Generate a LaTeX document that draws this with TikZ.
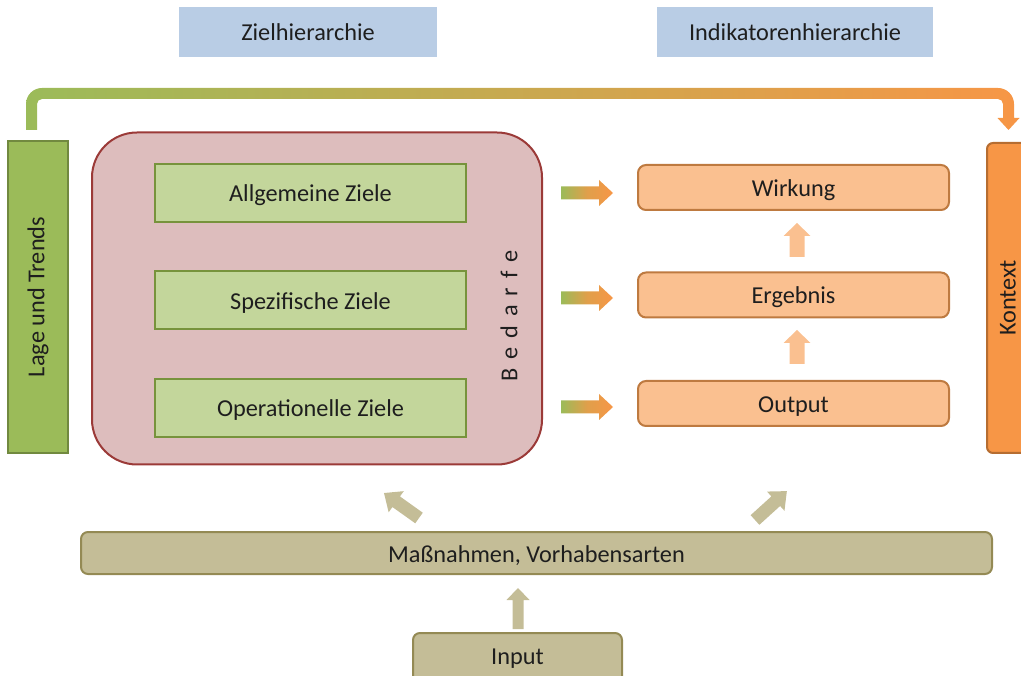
\documentclass[tikz,border=0pt]{standalone}
\usepackage{fontspec}
\setmainfont{Carlito}
\definecolor{hblue}{HTML}{B9CDE5}
\definecolor{lgreen}{HTML}{9BBB59}
\definecolor{lgreenb}{HTML}{71893F}
\definecolor{pgreen}{HTML}{C3D69B}
\definecolor{pgreenb}{HTML}{77933C}
\definecolor{pink}{HTML}{DDBDBD}
\definecolor{pinkb}{HTML}{9B3A38}
\definecolor{porange}{HTML}{FAC090}
\definecolor{porangeb}{HTML}{BE7A40}
\definecolor{lorange}{HTML}{F79646}
\definecolor{lorangeb}{HTML}{B66D31}
\definecolor{tan}{HTML}{C4BD97}
\definecolor{tanb}{HTML}{948A54}
\definecolor{txt}{HTML}{1E1E1E}
\newcommand\blkarrow[8]{%
  \begin{scope}[shift={(#2,#3)},rotate=#4]
    \path[#1] (0,-#6) -- ({#5-#8},-#6) -- ({#5-#8},-#7) -- (#5,0)
      -- ({#5-#8},#7) -- ({#5-#8},#6) -- (0,#6) -- cycle;
  \end{scope}}
\tikzset{
  box/.style={inner sep=0pt, outer sep=0pt, text=txt, line width=2pt},
  hbox/.style={box, text height=19pt, text depth=1pt},
  hdr/.style={hbox, fill=hblue, draw=none},
  lagebox/.style={box, fill=lgreen, draw=lgreenb},
  goalbox/.style={hbox, fill=pgreen, draw=pgreenb},
  bedbox/.style={box, fill=pink, draw=pinkb, rounded corners=45pt},
  indbox/.style={hbox, fill=porange, draw=porangeb, rounded corners=8pt},
  ktxbox/.style={box, fill=lorange, draw=lorangeb, rounded corners=6pt},
  tanbox/.style={hbox, fill=tan, draw=tanb, rounded corners=7pt},
  grad/.style={shade, left color=lgreen, right color=lorange, middle color=lorange!75!lgreen},
}
\begin{document}
\begin{tikzpicture}[x=1pt,y=-1pt, font=\fontsize{24.3}{29}\selectfont]
\useasboundingbox (0,0) rectangle (1021,676);
\clip (0,0) rectangle (1021,676);

% header boxes
\node[hdr, minimum width=258pt, minimum height=50pt] (zh) at (308,32) {Zielhierarchie};
\node[hdr, minimum width=276pt, minimum height=50pt] (ih) at (795,32) {Indikatorenhierarchie};

% top gradient arrow
\shade[left color=lgreen, right color=lorange]
  (26,130) -- (26,104) .. controls (26,95.16) and (33.16,88) .. (42,88)
  -- (998,88) .. controls (1006.84,88) and (1014,95.16) .. (1014,104)
  -- (1014,118) -- (1019.5,118) -- (1008.5,130) -- (997.5,118) -- (1003,118)
  -- (1003,104) .. controls (1003,101.24) and (1000.76,99) .. (998,99)
  -- (42,99) .. controls (39.24,99) and (37,101.24) .. (37,104)
  -- (37,130) -- cycle;

% side boxes
\node[lagebox, rotate=90, minimum width=312pt, minimum height=60pt] (lage) at (38,297) {Lage und Trends};
\node[ktxbox, rotate=90, minimum width=310pt, minimum height=46pt] (ktx) at (1010,298) {};
\node[rotate=90, text=txt, inner sep=0pt] (ktxl) at (1008,298) {Kontext};

% Bedarfe
\node[bedbox, minimum width=450pt, minimum height=332pt] (bed) at (317,298.5) {};
\node[rotate=90, text=txt, inner sep=0pt] (bedl) at (509,316)
  {B\hspace{9pt}e\hspace{9pt}d\hspace{9pt}a\hspace{9pt}r\hspace{9pt}f\hspace{9pt}e};

% goal boxes
\node[goalbox, minimum width=311pt, minimum height=58pt] (g1) at (310.5,193) {Allgemeine Ziele};
\node[goalbox, minimum width=311pt, minimum height=58pt] (g2) at (310.5,300.5) {Spezifische Ziele};
\node[goalbox, minimum width=311pt, minimum height=58pt] (g3) at (310.5,408) {Operationelle Ziele};

% indicator boxes
\node[indbox, minimum width=311pt, minimum height=45pt] (i1) at (793.5,187.5) {Wirkung};
\node[indbox, minimum width=311pt, minimum height=45pt] (i2) at (793.5,295) {Ergebnis};
\node[indbox, minimum width=311pt, minimum height=45pt] (i3) at (793.5,403.5) {Output};

% gradient arrows
\blkarrow{grad}{561}{193}{0}{52}{6.5}{13}{14}
\blkarrow{grad}{561}{298}{0}{52}{6.5}{13}{14}
\blkarrow{grad}{561}{407}{0}{52}{6.5}{13}{14}

% small up arrows
\blkarrow{fill=porange}{797}{257}{90}{34}{7.5}{13.5}{13}
\blkarrow{fill=porange}{797}{364}{90}{34}{7.5}{13.5}{13}

% bottom
\node[tanbox, minimum width=911pt, minimum height=42pt] (mass) at (536.5,553) {Maßnahmen, Vorhabensarten};
\node[tanbox, anchor=north, minimum width=209pt, minimum height=50pt, text height=16pt, text depth=4pt] (inp) at (517.5,633) {Input};

\blkarrow{fill=tan}{419}{518}{144.5}{43}{6.5}{13}{15}
\blkarrow{fill=tan}{755}{520}{42.2}{43}{6.5}{13}{15}
\blkarrow{fill=tan}{518}{629}{90}{41}{5.5}{11.5}{12}
\end{tikzpicture}
\end{document}
